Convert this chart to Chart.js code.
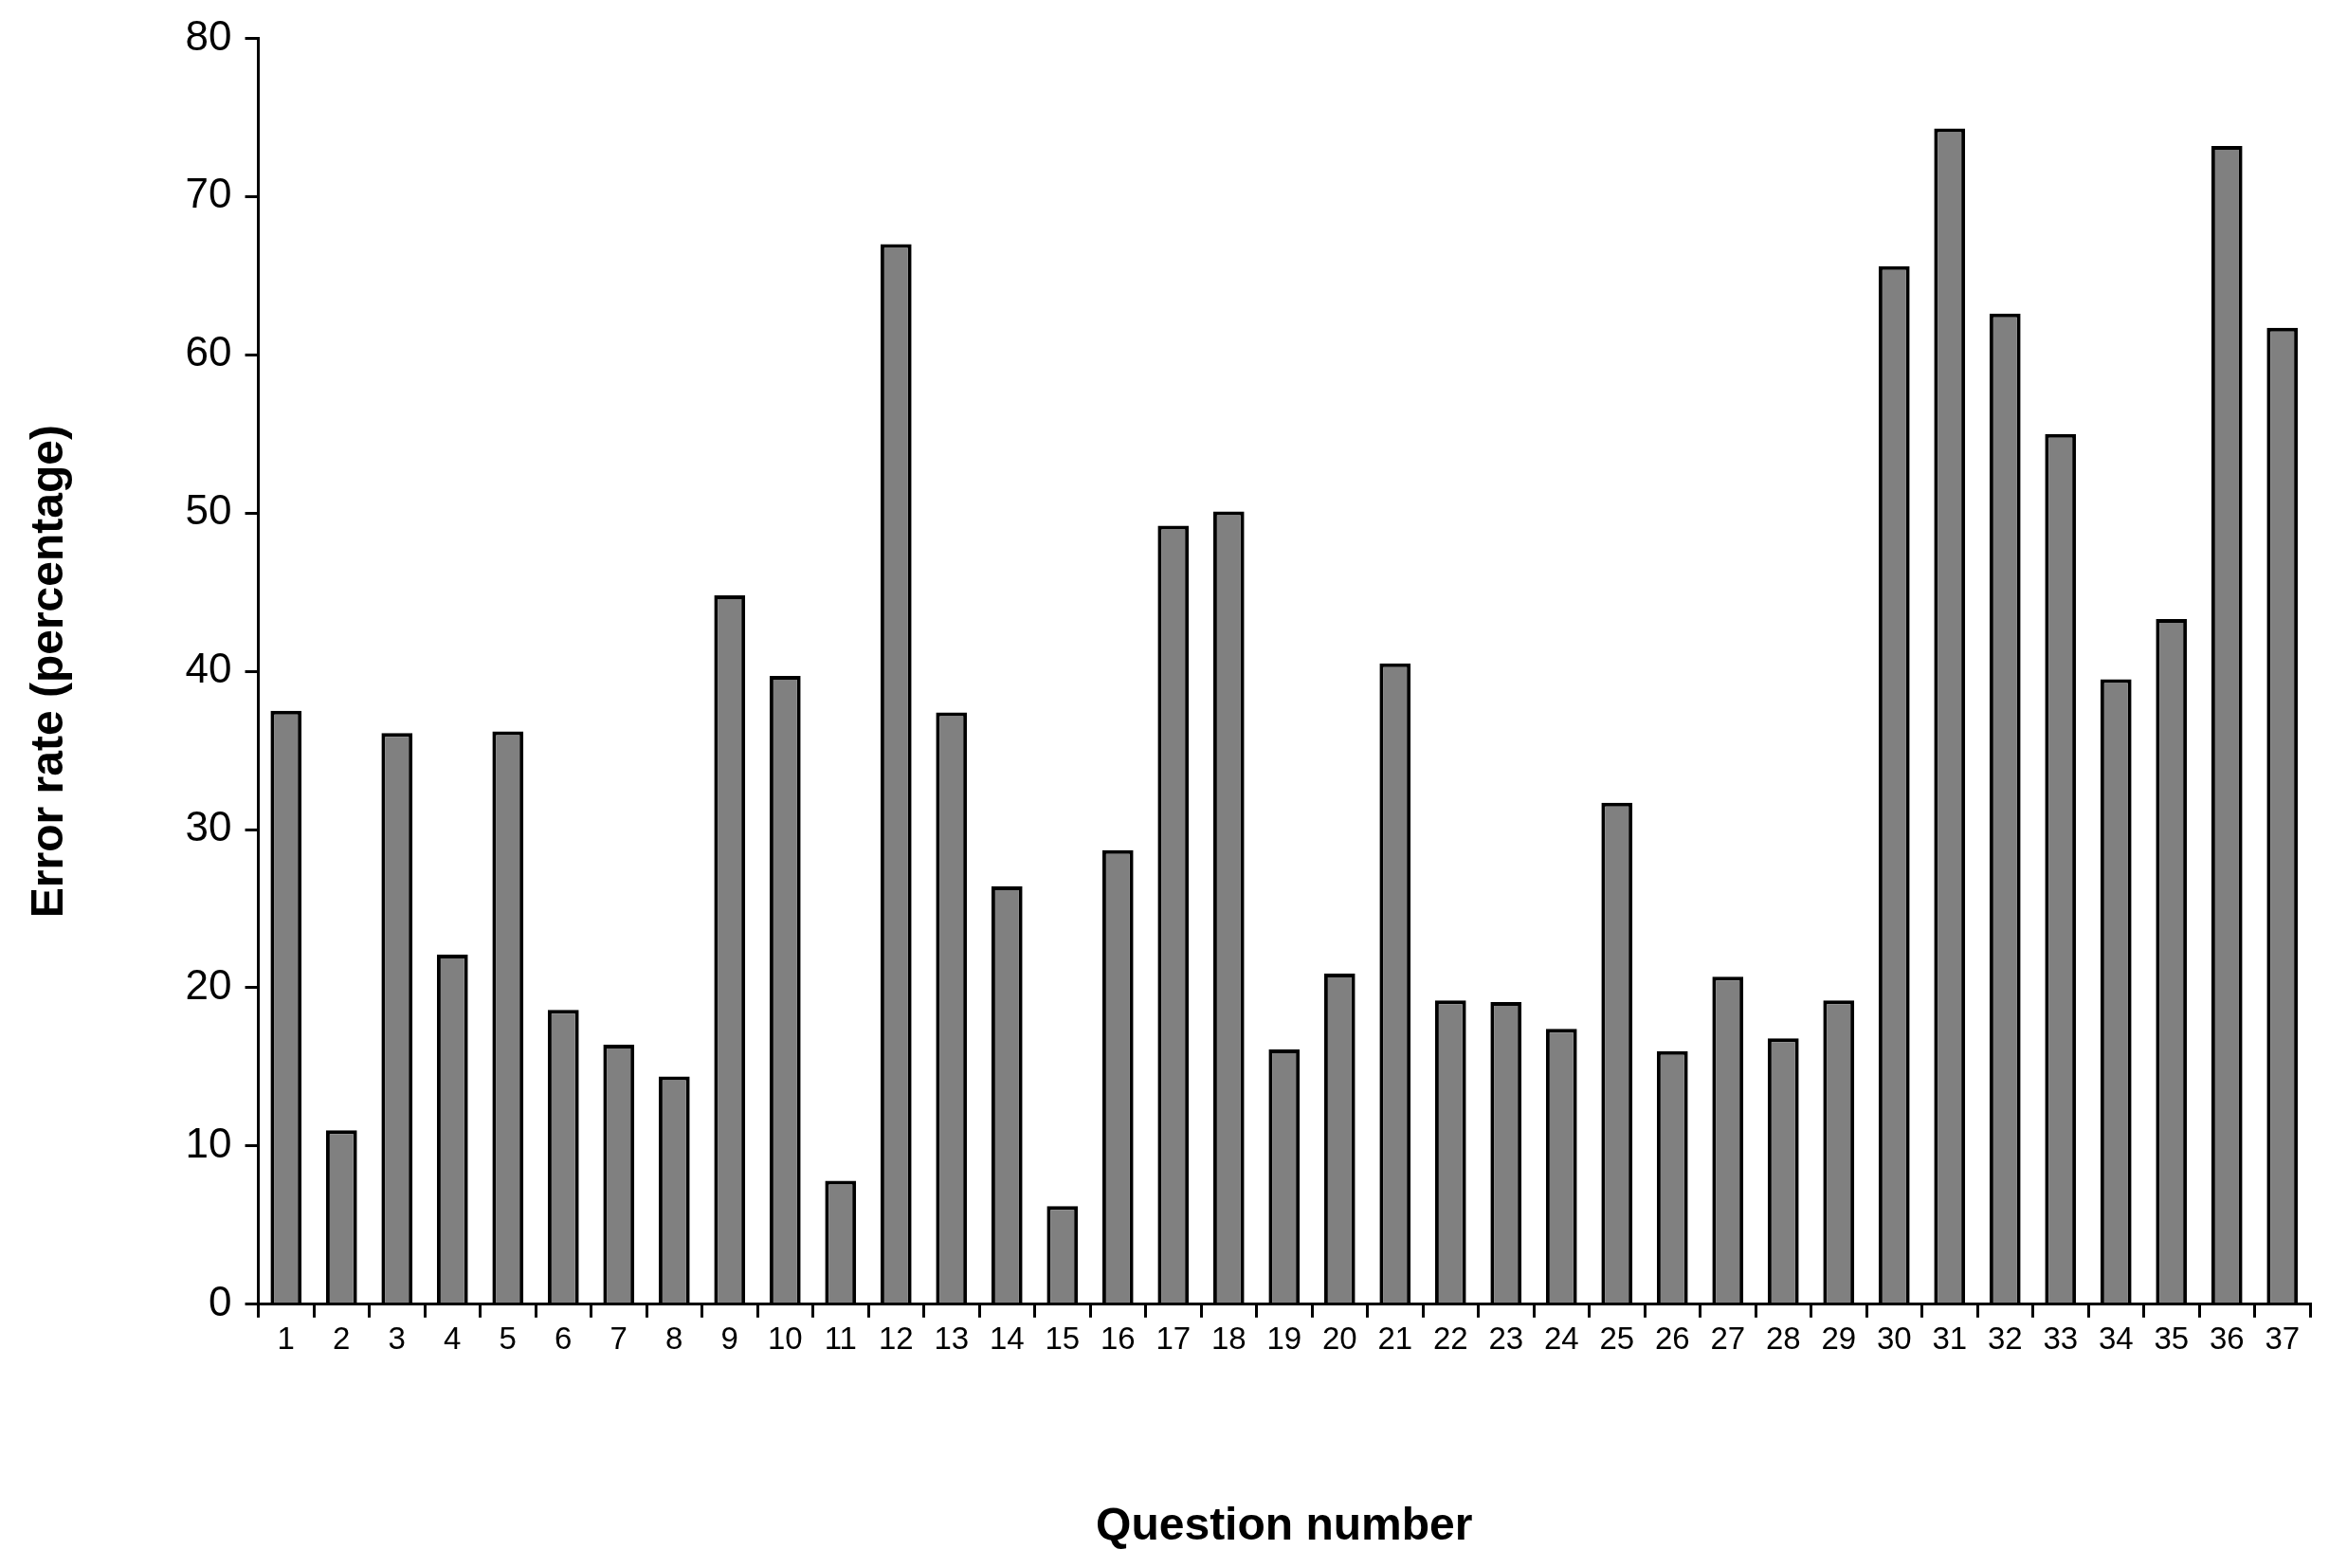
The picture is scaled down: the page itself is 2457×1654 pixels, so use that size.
<!doctype html>
<html lang="en">
<head>
<meta charset="utf-8">
<title>Error rate by question</title>
<style>
  html,body{margin:0;padding:0;width:100%;height:100%;overflow:hidden;background:#fff;}
  #wrap{width:2457px;height:1654px;}
</style>
</head>
<body>
<div id="wrap"><canvas id="chart0"></canvas></div>
<script src="https://cdn.jsdelivr.net/npm/chart.js@4/dist/chart.umd.min.js"></script>
<script>
var questions = [];
for (var i = 1; i <= 37; i++) questions.push(String(i));

var errorRate = [37.5, 11, 36.1, 22.1, 36.2, 18.6, 16.4, 14.4, 44.8, 39.7,
  7.8, 67, 37.4, 26.4, 6.2, 28.7, 49.2, 50.1, 16.1, 20.9,
  40.5, 19.2, 19.1, 17.4, 31.7, 16, 20.7, 16.8, 19.2, 65.6,
  74.3, 62.6, 55, 39.5, 43.3, 73.2, 61.7];

var ctx = document.getElementById('chart0').getContext('2d');
new Chart(ctx, {
  type: 'bar',
  data: {
    labels: questions,
    datasets: [{
      data: errorRate,
      backgroundColor: '#808080',
      borderColor: '#000',
      borderWidth: 4,
      barPercentage: 0.56,
      categoryPercentage: 1.0
    }]
  },
  options: {
    responsive: true,
    maintainAspectRatio: false,
    animation: false,
    devicePixelRatio: 1,
    layout: {padding: {left: 20, right: 20, top: 40, bottom: 10}},
    plugins: {legend: {display: false}, tooltip: {enabled: false}},
    scales: {
      x: {
        grid: {drawOnChartArea: false, drawTicks: true, tickLength: 14, color: '#000', lineWidth: 3},
        border: {color: '#000', width: 3},
        ticks: {color: '#000', font: {family: 'Liberation Sans', size: 33}, maxRotation: 0, autoSkip: false, padding: 4},
        title: {display: true, text: 'Question number', color: '#000',
          font: {family: 'Liberation Sans', size: 48, weight: 'bold'}, padding: {top: 145}}
      },
      y: {
        min: 0, max: 80,
        ticks: {stepSize: 10, color: '#000', font: {family: 'Liberation Sans', size: 44}, padding: 14},
        grid: {drawOnChartArea: false, drawTicks: true, tickLength: 14, color: '#000', lineWidth: 3},
        border: {color: '#000', width: 3},
        title: {display: true, text: 'Error rate (percentage)', color: '#000',
          font: {family: 'Liberation Sans', size: 48, weight: 'bold'}, padding: {bottom: 100}}
      }
    }
  }
});
</script>
</body>
</html>
